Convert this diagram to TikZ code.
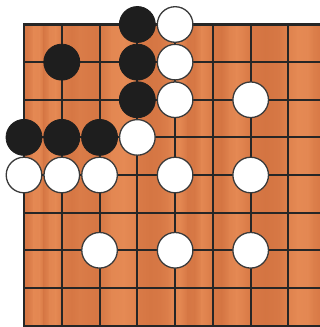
\documentclass[tikz,border=0pt]{standalone}
\definecolor{woodA}{HTML}{D27240}
\definecolor{woodB}{HTML}{E68B55}
\definecolor{gridc}{HTML}{262626}
\definecolor{blk}{HTML}{1E1E1E}
\definecolor{wedge}{HTML}{3A3A3A}
\tikzset{
  gridline/.style={draw=gridc, line width=2pt},
  edgeline/.style={draw=gridc, line width=2.8pt},
  bstone/.style={circle, fill=blk, draw=blk, line width=0.8pt, minimum size=36pt, inner sep=0pt},
  wstone/.style={circle, fill=white, draw=wedge, line width=1.3pt, minimum size=35.6pt, inner sep=0pt},
}
\begin{document}
\begin{tikzpicture}[x=1pt,y=-1pt]
\useasboundingbox (0,0) rectangle (320,327);
% wood texture
\foreach \xa/\ta/\xb/\tb in {
 24/20/28/30, 28/30/34/90, 34/90/40/80, 40/80/44/20, 44/20/50/80, 50/80/56/90,
 56/90/61/50, 61/50/66/30, 66/30/72/20, 72/20/80/40, 80/40/88/30, 88/30/96/20,
 96/20/104/40, 104/40/112/85, 112/85/124/95, 124/95/134/70, 134/70/140/30,
 140/30/150/15, 150/15/160/25, 160/25/168/50, 168/50/172/80, 172/80/180/85,
 180/85/188/20, 188/20/195/25, 195/25/202/85, 202/85/208/60, 208/60/214/20,
 214/20/222/15, 222/15/230/70, 230/70/237/90, 237/90/244/60, 244/60/252/20,
 252/20/266/10, 266/10/280/25, 280/25/290/70, 290/70/298/95, 298/95/308/85,
 308/85/314/50, 314/50/320/30}
 \shade[left color=woodB!\ta!woodA, right color=woodB!\tb!woodA]
   (\xa-0.3,24) rectangle (\xb+0.3,327);
% grid
\foreach \j in {1,...,8}
  \draw[gridline] (24,{24.5+37.63*\j}) -- (320,{24.5+37.63*\j});
\foreach \i in {1,...,7}
  \draw[gridline] ({24+37.78*\i},24.5) -- ({24+37.78*\i},327);
\draw[edgeline] (24,327) -- (24,24.5) -- (320,24.5);
% stones
\foreach \i/\j [count=\k] in {3/0,1/1,3/1,3/2,0/3,1/3,2/3}
  \node[bstone] (b\k) at ({24+37.78*\i},{24.5+37.63*\j}) {};
\foreach \i/\j [count=\k] in {4/0,4/1,4/2,6/2,3/3,0/4,1/4,2/4,4/4,6/4,2/6,4/6,6/6}
  \node[wstone] (w\k) at ({24+37.78*\i},{24.5+37.63*\j}) {};
\end{tikzpicture}
\end{document}
